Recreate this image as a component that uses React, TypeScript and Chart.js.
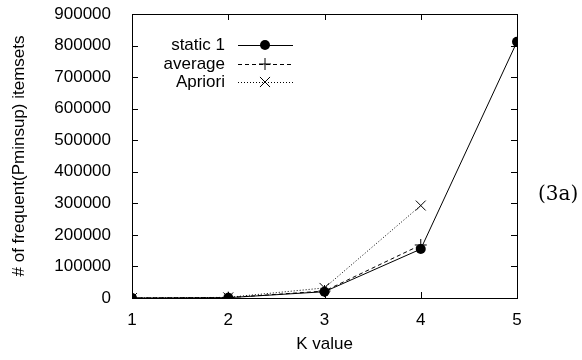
import React, { useEffect, useRef } from "react";
import { Chart, registerables } from "chart.js";

Chart.register(...registerables);

const kValues = [1, 2, 3, 4, 5];
const static1 = [0, 1000, 20000, 155000, 812000];
const averageVals = [0, 1200, 22000, 168000];
const aprioriVals = [0, 2000, 32000, 293000];
const yTicks = [0, 100000, 200000, 300000, 400000, 500000, 600000, 700000, 800000, 900000];
const seriesNames = ["static 1", "average", "Apriori"];

const FONT = "'Liberation Sans', Arial, sans-serif";
const FS = 17;

const toPoints = (vals: number[]) => vals.map((v, i) => ({ x: kValues[i], y: v }));

function drawMarker(ctx: CanvasRenderingContext2D, style: string, x: number, y: number, r: number) {
  ctx.save();
  ctx.setLineDash([]);
  ctx.strokeStyle = "#000";
  ctx.fillStyle = "#000";
  ctx.lineWidth = 1;
  ctx.beginPath();
  if (style === "circle") {
    ctx.arc(x, y, r, 0, Math.PI * 2);
    ctx.fill();
  } else if (style === "cross") {
    ctx.moveTo(x - r, y); ctx.lineTo(x + r, y);
    ctx.moveTo(x, y - r); ctx.lineTo(x, y + r);
    ctx.stroke();
  } else {
    const d = r * 0.72;
    ctx.moveTo(x - d, y - d); ctx.lineTo(x + d, y + d);
    ctx.moveTo(x - d, y + d); ctx.lineTo(x + d, y - d);
    ctx.stroke();
  }
  ctx.restore();
}

const framePlugin = {
  id: "frame",
  afterDraw(chart: any) {
    const { ctx, chartArea: a, scales } = chart;
    ctx.save();
    ctx.strokeStyle = "#000";
    ctx.lineWidth = 1;
    ctx.setLineDash([]);
    ctx.strokeRect(Math.round(a.left) + 0.5, Math.round(a.top) + 0.5, Math.round(a.right - a.left), Math.round(a.bottom - a.top));
    const tl = 6;
    ctx.beginPath();
    yTicks.forEach((v) => {
      const y = Math.round(scales.y.getPixelForValue(v)) + 0.5;
      ctx.moveTo(a.left, y); ctx.lineTo(a.left + tl, y);
      ctx.moveTo(a.right, y); ctx.lineTo(a.right - tl, y);
    });
    kValues.forEach((v) => {
      const x = Math.round(scales.x.getPixelForValue(v)) + 0.5;
      ctx.moveTo(x, a.bottom); ctx.lineTo(x, a.bottom - tl);
      ctx.moveTo(x, a.top); ctx.lineTo(x, a.top + tl);
    });
    ctx.stroke();

    // legend
    const styles = [
      { dash: [] as number[], marker: "circle", r: 5 },
      { dash: [4, 3], marker: "cross", r: 6 },
      { dash: [1, 2], marker: "crossRot", r: 7 },
    ];
    const rows = [45, 64, 82];
    ctx.font = FS + "px " + FONT;
    ctx.textAlign = "right";
    ctx.textBaseline = "middle";
    seriesNames.forEach((name, i) => {
      const y = rows[i];
      ctx.fillStyle = "#000";
      ctx.fillText(name, 225, y);
      ctx.beginPath();
      ctx.setLineDash(styles[i].dash);
      ctx.moveTo(238, y + 0.5);
      ctx.lineTo(293, y + 0.5);
      ctx.stroke();
      drawMarker(ctx, styles[i].marker, 265, y, styles[i].r);
    });

    // side label
    ctx.setLineDash([]);
    ctx.font = "20px 'DejaVu Serif', 'Liberation Serif', serif";
    ctx.textAlign = "left";
    ctx.fillStyle = "#000";
    ctx.fillText("(3a)", 538, 195);
    ctx.restore();
  },
};

export default function App() {
  const ref = useRef<HTMLCanvasElement | null>(null);
  useEffect(() => {
    document.body.style.margin = "0";
    if (!ref.current) return;
    const chart = new Chart(ref.current, {
      type: "line",
      data: {
        datasets: [
          {
            label: seriesNames[0],
            data: toPoints(static1),
            borderColor: "#000",
            backgroundColor: "#000",
            borderWidth: 1,
            pointStyle: "circle",
            pointRadius: 5,
            pointBorderWidth: 0,
            tension: 0,
          },
          {
            label: seriesNames[1],
            data: toPoints(averageVals),
            borderColor: "#000",
            backgroundColor: "#000",
            borderWidth: 1,
            borderDash: [4, 3],
            pointStyle: "cross",
            pointRadius: 6,
            pointBorderWidth: 1,
            tension: 0,
          },
          {
            label: seriesNames[2],
            data: toPoints(aprioriVals),
            borderColor: "#000",
            backgroundColor: "#000",
            borderWidth: 1,
            borderDash: [1, 2],
            pointStyle: "crossRot",
            pointRadius: 7,
            pointBorderWidth: 1,
            tension: 0,
          },
        ],
      },
      options: {
        responsive: false,
        animation: false,
        events: [],
        layout: { padding: { top: 14, right: 65, left: 0, bottom: 0 } },
        plugins: { legend: { display: false }, tooltip: { enabled: false } },
        scales: {
          x: {
            type: "linear",
            min: 1,
            max: 5,
            grid: { display: false },
            border: { display: false },
            ticks: { stepSize: 1, color: "#000", font: { family: FONT, size: FS }, padding: 4, callback: (v: any) => String(v) },
            title: { display: true, text: "K value", color: "#000", font: { family: FONT, size: FS }, padding: { top: 0, bottom: 5 } },
            afterFit: (s: any) => { s.height = 62; s.paddingLeft = 0; s.paddingRight = 0; },
          },
          y: {
            min: 0,
            max: 900000,
            grid: { display: false },
            border: { display: false },
            ticks: { stepSize: 100000, color: "#000", font: { family: FONT, size: FS }, padding: 13, callback: (v: any) => String(v) },
            title: { display: true, text: "# of frequent(Pminsup) itemsets", color: "#000", font: { family: FONT, size: FS }, padding: { top: 9, bottom: 0 } },
            afterFit: (s: any) => { s.width = 132; s.paddingTop = 0; s.paddingBottom = 0; },
          },
        },
      } as any,
      plugins: [framePlugin],
    });
    return () => chart.destroy();
  }, []);
  return <canvas ref={ref} width={582} height={360} style={{ display: "block" }} />;
}
